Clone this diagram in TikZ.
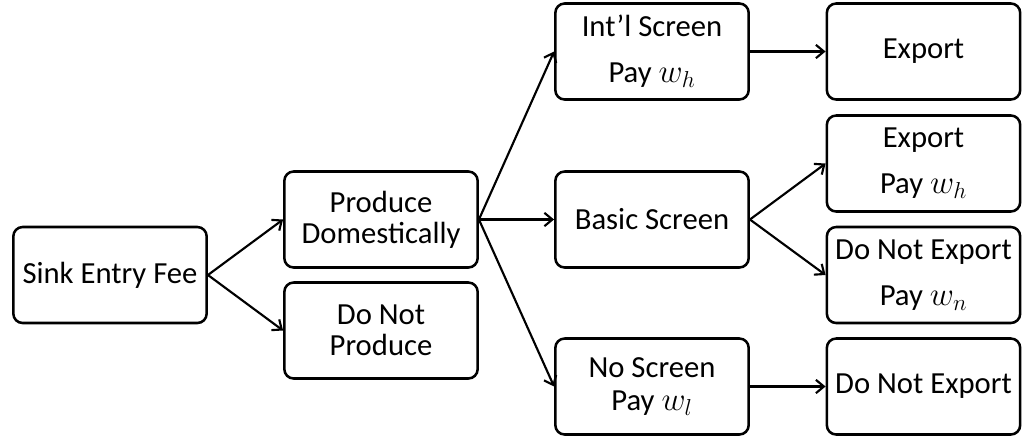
\documentclass[tikz,border=0pt]{standalone}
\usepackage{fontspec}
\setmainfont{Carlito}
\usetikzlibrary{arrows.meta}
\tikzset{>={Straight Barb[length=6pt,width=10pt]}}
\tikzset{box/.style={draw, line width=1.9pt, rounded corners=7pt, minimum width=145pt, minimum height=72pt, align=center, inner sep=0pt, font=\fontsize{23}{23.3}\selectfont},
  arr/.style={->, line width=1.6pt}}

\begin{document}
\begin{tikzpicture}[x=0.75pt,y=-0.75pt]
    \useasboundingbox (0,0) rectangle (1023,440);
    \node[box] (sink) at (110,275) {Sink Entry Fee};
    \node[box] (prod) at (381,219.5) {Produce\\Domestically};
    \node[box] (noprod) at (381,330.5) {Do Not\\Produce};
    \node[box] (intl) at (652,51.5) {Int’l Screen\\[11pt]Pay $w_h$};
    \node[box] (basic) at (652,219.5) {Basic Screen};
    \node[box] (noscr) at (652,386.5) {No Screen\\[2pt]Pay $w_l$};
    \node[box] (exp) at (923.5,51.5) {Export};
    \node[box] (exppay) at (923.5,163.5) {Export\\[11pt]Pay $w_h$};
    \node[box] (noexppay) at (923.5,275) {Do Not Export\\[11pt]Pay $w_n$};
    \node[box] (noexp) at (923.5,386.5) {Do Not Export};
    \draw[arr] (sink.east) -- (prod.west);
    \draw[arr] (sink.east) -- (noprod.west);
    \draw[arr] (prod.east) -- (intl.west);
    \draw[arr] (prod.east) -- (basic.west);
    \draw[arr] (prod.east) -- (noscr.west);
    \draw[arr] (intl.east) -- (exp.west);
    \draw[arr] (basic.east) -- (exppay.west);
    \draw[arr] (basic.east) -- (noexppay.west);
    \draw[arr] (noscr.east) -- (noexp.west);
\end{tikzpicture}
\end{document}
